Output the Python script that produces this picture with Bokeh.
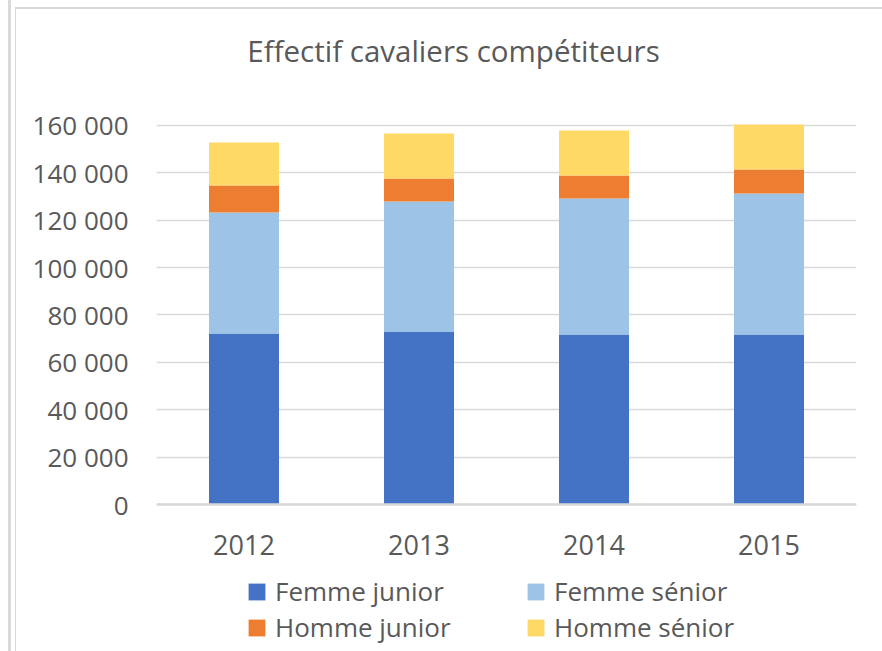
from bokeh.plotting import figure
from bokeh.models import (FixedTicker, Legend, LegendItem, Range1d, FactorRange,
                          ColumnDataSource, InlineStyleSheet, Span, Label)
from bokeh.core.properties import value
from bokeh.embed import file_html
from bokeh.resources import INLINE

# ---- data ----
years = ["2012", "2013", "2014", "2015"]
femme_junior = [72200, 73000, 71800, 71800]
femme_senior = [51100, 54900, 57400, 59500]
homme_junior = [11400, 9700, 9700, 10100]
homme_senior = [18100, 19000, 19000, 19000]
series_names = ["Femme junior", "Femme sénior", "Homme junior", "Homme sénior"]
series_colors = ["#4472C4", "#9DC3E6", "#ED7D31", "#FFD966"]
ytick_values = [0, 20000, 40000, 60000, 80000, 100000, 120000, 140000, 160000]
ytick_labels = ["0", "20 000", "40 000", "60 000", "80 000",
                "100 000", "120 000", "140 000", "160 000"]
chart_title = "Effectif cavaliers compétiteurs"

TEXT = "#595959"
GRID = "#D9D9D9"
FONT = "Open Sans"

keys = ["fj", "fs", "hj", "hs"]
source = ColumnDataSource(dict(years=years, fj=femme_junior, fs=femme_senior,
                               hj=homme_junior, hs=homme_senior))

# the frame covers the full canvas height; the space above 160 000 holds the
# title and the space below 0 holds the category labels and the legend
p = figure(x_range=FactorRange(*years), y_range=Range1d(-62050, 212750),
           width=882, height=651, output_backend="svg", toolbar_location=None,
           x_axis_location=None,
           min_border_left=156, min_border_right=26, min_border_top=0,
           min_border_bottom=0)

renderers = p.vbar_stack(keys, x="years", width=0.4, color=series_colors,
                         line_color=None, source=source)

p.background_fill_color = None
p.border_fill_color = None
p.outline_line_color = None

# chart-area frame lines drawn as CSS background of the host element
p.stylesheets = [InlineStyleSheet(css=(
    ":host { background:"
    " linear-gradient(#D9D9D9,#D9D9D9) 15px 7px / 867px 2px no-repeat,"
    " linear-gradient(#D9D9D9,#D9D9D9) 15px 7px / 1px 644px no-repeat,"
    " linear-gradient(#D9D9D9,#D9D9D9) 8px 0px / 3px 651px no-repeat,"
    " white; }"))]

# title
p.add_layout(Label(x=297, y=601.5, x_units="screen", y_units="screen",
                   text=chart_title, text_align="center", text_baseline="middle",
                   text_font=FONT, text_font_size="29.5px", text_color=TEXT))

# y axis
yaxis = p.yaxis[0]
yaxis.ticker = FixedTicker(ticks=ytick_values)
yaxis.major_label_overrides = {v: l for v, l in zip(ytick_values, ytick_labels)}
yaxis.axis_line_color = None
yaxis.major_tick_line_color = None
yaxis.minor_tick_line_color = None
yaxis.major_label_text_font = FONT
yaxis.major_label_text_font_size = "26px"
yaxis.major_label_text_color = TEXT
yaxis.major_label_standoff = 22

p.xgrid.grid_line_color = None
p.ygrid.grid_line_color = GRID
p.ygrid.grid_line_width = 1.6

# category axis line at 0 and category labels below it
p.add_layout(Span(location=0, dimension="width", line_color=GRID, line_width=2.5))
p.text(x=years, y=[0] * len(years), text=years, y_offset=40,
       text_align="center", text_baseline="middle",
       text_font=value(FONT), text_font_size="27px", text_color=TEXT)

# legend (column-wise fill: first column = juniors row order FJ/HJ)
order = [0, 2, 1, 3]
items = [LegendItem(label=series_names[i], renderers=[renderers[i]]) for i in order]
legend = Legend(items=items, ncols=2, location=(90, 6),
                glyph_width=21, glyph_height=21, label_standoff=8,
                label_width=250, label_height=26, spacing=0,
                padding=0, margin=0, border_line_color=None,
                background_fill_alpha=0,
                label_text_font=FONT, label_text_font_size="26px",
                label_text_color=TEXT)
p.add_layout(legend, "center")

open("out.html", "w").write(file_html(p, INLINE))
